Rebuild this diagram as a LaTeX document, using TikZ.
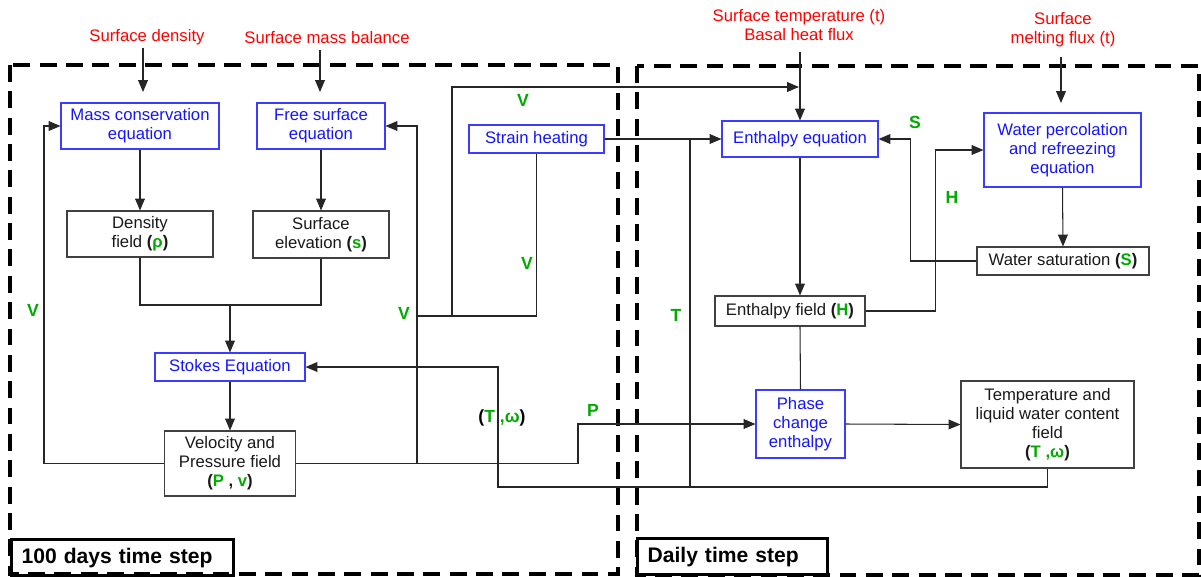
\documentclass[tikz,border=0pt]{standalone}
\usepackage{fontspec}
\setmainfont{Liberation Sans}
\usetikzlibrary{arrows.meta}
\definecolor{eqblue}{RGB}{20,20,255}
\definecolor{eqborder}{RGB}{60,60,255}
\definecolor{lblgreen}{RGB}{0,170,0}
\definecolor{inred}{RGB}{255,0,0}
\newcommand{\gr}[1]{\textcolor{lblgreen}{#1}}
\begin{document}
\begin{tikzpicture}[x=0.02cm,y=-0.02cm,
  basefont/.style={font=\fontsize{9.5}{10.8}\selectfont},
  eqbox/.style={basefont, draw=eqborder, text=eqblue, line width=0.6pt, align=center, inner sep=0pt},
  fieldbox/.style={basefont, draw=black!75, text=black!90, line width=0.6pt, align=center, inner sep=0pt},
  inlbl/.style={basefont, text=inred, align=center, inner sep=0pt},
  glbl/.style={text=lblgreen, font=\fontsize{10}{12}\selectfont\bfseries, inner sep=0pt},
  conn/.style={line width=0.6pt, draw=black!85},
  arr/.style={conn, -{Triangle[length=6.8pt,width=5.6pt]}},
  zone/.style={line width=1.8pt, dash pattern=on 9.6pt off 5.4pt},
  steplbl/.style={draw, line width=1.8pt, anchor=north west, minimum height=0.72cm, align=left, inner ysep=0pt, inner xsep=0.2cm, font=\fontsize{12}{14}\selectfont\bfseries}
]
\useasboundingbox (0,0) rectangle (1201,576);

% zones
\draw[zone] (10,65) rectangle (618,574);
\draw[zone] (637,66) rectangle (1199,575);
\node[steplbl, text width=4.04cm] (z1) at (10,538) {100 days time step};
\node[steplbl, text width=3.40cm] (z2) at (636,537) {Daily time step};

% inputs
\node[inlbl] (sd) at (147,37) {Surface density};
\node[inlbl] (smb) at (327,38) {Surface mass balance};
\node[inlbl] (stb) at (799,25) {Surface temperature (t)\\Basal heat flux};
\node[inlbl] (smf) at (1063,30) {Surface\\melting flux (t)};

% boxes
\node[eqbox, minimum width=3.16cm, minimum height=0.92cm] (mc) at (140,126) {\rule{0pt}{1.2ex}Mass conservation\\equation};
\node[eqbox, minimum width=2.56cm, minimum height=0.92cm] (fs) at (321,126) {\rule{0pt}{1.2ex}Free surface\\equation};
\node[fieldbox, minimum width=2.92cm, minimum height=0.92cm] (df) at (140,234) {\rule{0pt}{1.2ex}Density\\field \textbf{(\gr{ρ})}};
\node[fieldbox, minimum width=2.72cm, minimum height=0.94cm] (se) at (321,234.5) {\rule{0pt}{1.2ex}Surface\\elevation \textbf{(\gr{s})}};
\node[eqbox, minimum width=3.0cm, minimum height=0.56cm] (st) at (230,367) {Stokes Equation};
\node[fieldbox, minimum width=2.62cm, minimum height=1.3cm] (vp) at (230,463.5) {\rule{0pt}{1.2ex}Velocity and\\Pressure field\\\textbf{(\gr{P} , \gr{v})}};
\node[eqbox, minimum width=2.7cm, minimum height=0.56cm] (sh) at (536.5,139) {Strain heating};
\node[eqbox, minimum width=3.12cm, minimum height=0.72cm] (ee) at (800,139) {Enthalpy equation};
\node[eqbox, minimum width=3.14cm, minimum height=1.48cm] (wp) at (1062.5,150) {Water percolation\\and refreezing\\equation};
\node[fieldbox, minimum width=3.44cm, minimum height=0.56cm] (ws) at (1063,261) {Water saturation \textbf{(\gr{S})}};
\node[fieldbox, minimum width=3.0cm, minimum height=0.6cm] (ef) at (790,311) {Enthalpy field \textbf{(\gr{H})}};
\node[eqbox, minimum width=1.78cm, minimum height=1.36cm] (pc) at (800.5,424) {\rule{0pt}{1.2ex}Phase\\change\\enthalpy};
\node[fieldbox, minimum width=3.46cm, minimum height=1.74cm] (tf) at (1047.5,424.5) {Temperature and\\liquid water content\\field\\\textbf{(\gr{T} \gr{,ω})}};

% helper coordinates
\coordinate (sdA) at (143,48);
\coordinate (sdB) at (143,92);
\coordinate (smbA) at (320,50);
\coordinate (smbB) at (320,92);
\coordinate (stA) at (800,52);
\coordinate (smfA) at (1061,57);
\coordinate (smfB) at (1061,103);
\coordinate (jn) at (230,305);
\coordinate (vR) at (417,316);
\coordinate (vTop) at (452,87);
\coordinate (vTip) at (799,87);
\coordinate (tl) at (498,487);
\coordinate (tv) at (690,487);
\coordinate (pA) at (417,463.5);
\coordinate (pB) at (578,463.5);

% connectors
\draw[arr] (sdA) -- (sdB);
\draw[arr] (smbA) -- (smbB);
\draw[arr] (smfA) -- (smfB);
\draw[arr] (stA) -- (ee.north);
\draw[arr] (mc.south) -- (df.north);
\draw[arr] (fs.south) -- (se.north);
\draw[conn] (df.south) |- (jn) -| (se.south);
\draw[arr] (jn) -- (st.north);
\draw[arr] (st.south) -- (vp.north);
\draw[arr] (vp.west) -- ++(-120,0) |- (mc.west);
\draw[arr] (vp.east) -- (pA) |- (fs.east);
\draw[conn] (vR) -| (sh.south);
\draw[arr] (vR -| vTop) -- (vTop) -- (vTip);
\draw[arr] (sh.east) -- (ee.west);
\draw[arr] (tf.south) |- (tl) |- (st.east);
\draw[conn] (tv) -- (tv |- sh.east);
\draw[arr] (pA) -- (pB) |- (pc.west);
\draw[arr] (ee.south) -- (ee.south |- ef.north);
\draw[conn] (ee.south |- ef.south) -- (pc.north);
\draw[arr] (ef.east) -- ++(70,0) |- (wp.west);
\draw[arr] (ws.west) -- ++(-66,0) |- (ee.east);
\draw[arr] (wp.south) -- (ws.north);
\draw[arr] (pc.east) -- (tf.west);

% labels
\node[glbl] (l1) at (33,310) {V};
\node[glbl] (l2) at (404,313) {V};
\node[glbl] (l3) at (523,100) {V};
\node[glbl] (l4) at (527,263) {V};
\node[glbl] (l5) at (676,315) {T};
\node[glbl] (l6) at (502,418) {\textcolor{black}{(}T ,ω\textcolor{black}{)}};
\node[glbl] (l7) at (593,410) {P};
\node[glbl] (l8) at (915,122) {S};
\node[glbl] (l9) at (952,197) {H};
\end{tikzpicture}
\end{document}
